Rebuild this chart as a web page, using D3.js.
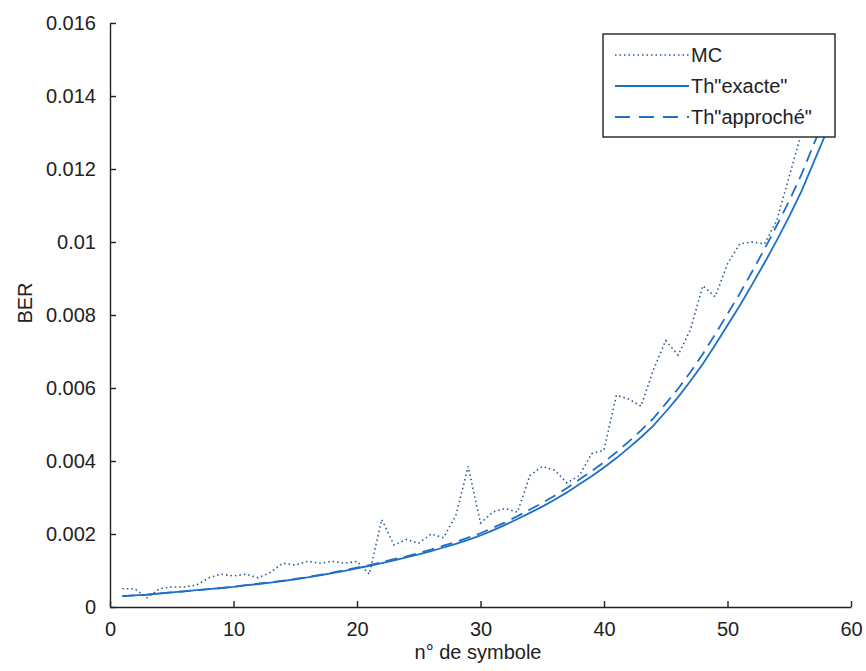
<!DOCTYPE html>
<html>
<head>
<meta charset="utf-8">
<script src="https://cdn.jsdelivr.net/npm/d3@7"></script>
<style>
  body { margin: 0; background: #fff; }
  svg { font-family: "Liberation Sans", Arial, sans-serif; }
</style>
</head>
<body>
<div id="chart"></div>
<script>
// n° de symbole
const symboles = d3.range(1, 59)

// BER Monte-Carlo
const berMC = [
  0.00050, 0.00050, 0.00025, 0.00050, 0.00055, 0.00055, 0.00060, 0.00080, 0.00090, 0.00085,
  0.00090, 0.00080, 0.00095, 0.00120, 0.00115, 0.00125, 0.00120, 0.00125, 0.00120, 0.00125,
  0.00090, 0.00240, 0.00170, 0.00185, 0.00175, 0.00200, 0.00190, 0.00250, 0.00385, 0.00230,
  0.00260, 0.00270, 0.00260, 0.00360, 0.00385, 0.00375, 0.00340, 0.00360, 0.00420, 0.00430,
  0.00580, 0.00570, 0.00550, 0.00650, 0.00730, 0.00690, 0.00760, 0.00880, 0.00850, 0.00940,
  0.00995, 0.01000, 0.00995, 0.01060, 0.01180, 0.01300, 0.01400, 0.01500
]

// BER theorique exacte
const berExacte = [
  0.00030, 0.00032, 0.00034, 0.00037, 0.00040, 0.00043, 0.00046, 0.00049, 0.00052, 0.00055,
  0.00059, 0.00063, 0.00067, 0.00071, 0.00076, 0.00081, 0.00087, 0.00093, 0.00099, 0.00106,
  0.00113, 0.00120, 0.00128, 0.00136, 0.00144, 0.00153, 0.00163, 0.00173, 0.00184, 0.00196,
  0.00210, 0.00225, 0.00241, 0.00258, 0.00275, 0.00294, 0.00314, 0.00336, 0.00358, 0.00382,
  0.00408, 0.00436, 0.00465, 0.00497, 0.00535, 0.00575, 0.00619, 0.00666, 0.00718, 0.00772,
  0.00826, 0.00884, 0.00943, 0.01005, 0.01070, 0.01140, 0.01220, 0.01300
]

// BER theorique approchee
const berApproche = [
  0.00030, 0.00032, 0.00034, 0.00037, 0.00040, 0.00043, 0.00046, 0.00049, 0.00052, 0.00056,
  0.00060, 0.00064, 0.00068, 0.00072, 0.00077, 0.00082, 0.00088, 0.00094, 0.00101, 0.00108,
  0.00115, 0.00123, 0.00131, 0.00139, 0.00148, 0.00157, 0.00168, 0.00178, 0.00190, 0.00202,
  0.00217, 0.00232, 0.00249, 0.00267, 0.00285, 0.00305, 0.00326, 0.00349, 0.00372, 0.00397,
  0.00424, 0.00453, 0.00484, 0.00517, 0.00557, 0.00598, 0.00644, 0.00693, 0.00747, 0.00803,
  0.00859, 0.00919, 0.00981, 0.01046, 0.01113, 0.01186, 0.01269, 0.01352
]

const xTicks = [0, 10, 20, 30, 40, 50, 60]
const yTicks = [0, 0.002, 0.004, 0.006, 0.008, 0.01, 0.012, 0.014, 0.016]
const legendLabels = ["MC", "Th\"exacte\"", "Th\"approché\""]

const width = 866
const height = 671
const margin = { top: 23, right: 15, bottom: 64, left: 110 }

const svg = d3.select("#chart").append("svg")
  .attr("width", width)
  .attr("height", height)

const x = d3.scaleLinear().domain([0, 60]).range([margin.left, width - margin.right])
const y = d3.scaleLinear().domain([0, 0.016]).range([height - margin.bottom, margin.top])

const blue = "#1e6fc6"

const line = d3.line()
  .x((d, i) => x(symboles[i]))
  .y(d => y(d))

svg.append("path")
  .attr("d", line(berMC))
  .attr("fill", "none")
  .attr("stroke", "#2a5a9a")
  .attr("stroke-width", 1.6)
  .attr("stroke-dasharray", "1.5,3")

svg.append("path")
  .attr("d", line(berExacte))
  .attr("fill", "none")
  .attr("stroke", blue)
  .attr("stroke-width", 1.8)

svg.append("path")
  .attr("d", line(berApproche))
  .attr("fill", "none")
  .attr("stroke", blue)
  .attr("stroke-width", 1.8)
  .attr("stroke-dasharray", "12,7")

// axes
const xAxis = svg.append("g")
  .attr("transform", `translate(0,${y(0)})`)
  .call(d3.axisBottom(x).tickValues(xTicks).tickSizeInner(-6).tickSizeOuter(0).tickPadding(10))
const yAxis = svg.append("g")
  .attr("transform", `translate(${x(0)},0)`)
  .call(d3.axisLeft(y).tickValues(yTicks).tickSizeInner(-6).tickSizeOuter(0).tickPadding(14)
    .tickFormat(d => d === 0 ? "0" : String(+d.toFixed(3))))

svg.selectAll(".domain, .tick line").attr("stroke", "#222").attr("stroke-width", 1.4)
svg.selectAll(".tick text").attr("font-size", 20).attr("fill", "#222")
  .attr("font-family", "'Liberation Sans', Arial, sans-serif")
xAxis.selectAll(".tick text").attr("dy", "0.95em")

svg.append("text")
  .attr("x", 478).attr("y", 659)
  .attr("text-anchor", "middle")
  .attr("font-size", 20).attr("fill", "#222")
  .text("n° de symbole")

svg.append("text")
  .attr("transform", "translate(32,303) rotate(-90)")
  .attr("text-anchor", "middle")
  .attr("font-size", 20).attr("fill", "#222")
  .text("BER")

// legend
const legend = svg.append("g")
legend.append("rect")
  .attr("x", 603).attr("y", 34).attr("width", 232).attr("height", 103)
  .attr("fill", "#fff").attr("stroke", "#222").attr("stroke-width", 1.4)

const styles = [
  { stroke: "#2a5a9a", dash: "1.5,3" },
  { stroke: blue, dash: null },
  { stroke: blue, dash: "15,9" }
]
legendLabels.forEach((lab, i) => {
  const cy = 55 + i * 31
  legend.append("line")
    .attr("x1", 615).attr("x2", 689).attr("y1", cy).attr("y2", cy)
    .attr("stroke", styles[i].stroke)
    .attr("stroke-width", i === 0 ? 1.6 : 1.8)
    .attr("stroke-dasharray", styles[i].dash)
  legend.append("text")
    .attr("x", 691).attr("y", cy + 7)
    .attr("font-size", 20).attr("fill", "#222")
    .text(lab)
})
</script>
</body>
</html>
